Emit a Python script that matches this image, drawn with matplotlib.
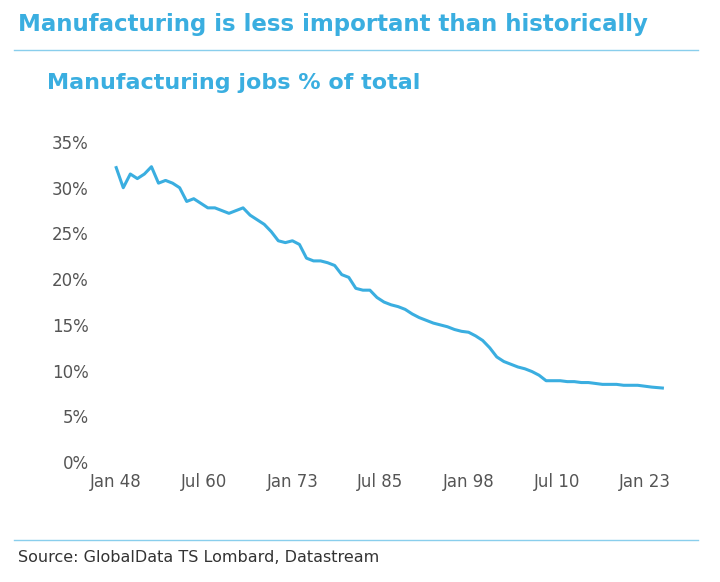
import matplotlib.pyplot as plt
from matplotlib.lines import Line2D

years = [1948, 1949, 1950, 1951, 1952, 1953, 1954, 1955, 1956, 1957, 1958, 1959,
         1960, 1961, 1962, 1963, 1964, 1965, 1966, 1967, 1968, 1969, 1970, 1971,
         1972, 1973, 1974, 1975, 1976, 1977, 1978, 1979, 1980, 1981, 1982, 1983,
         1984, 1985, 1986, 1987, 1988, 1989, 1990, 1991, 1992, 1993, 1994, 1995,
         1996, 1997, 1998, 1999, 2000, 2001, 2002, 2003, 2004, 2005, 2006, 2007,
         2008, 2009, 2010, 2011, 2012, 2013, 2014, 2015, 2016, 2017, 2018, 2019,
         2020, 2021, 2022, 2023, 2024, 2025.5]
share = [32.2, 30.0, 31.5, 31.0, 31.5, 32.3, 30.5, 30.8, 30.5, 30.0, 28.5, 28.8,
         28.3, 27.8, 27.8, 27.5, 27.2, 27.5, 27.8, 27.0, 26.5, 26.0, 25.2, 24.2,
         24.0, 24.2, 23.8, 22.3, 22.0, 22.0, 21.8, 21.5, 20.5, 20.2, 19.0, 18.8,
         18.8, 18.0, 17.5, 17.2, 17.0, 16.7, 16.2, 15.8, 15.5, 15.2, 15.0, 14.8,
         14.5, 14.3, 14.2, 13.8, 13.3, 12.5, 11.5, 11.0, 10.7, 10.4, 10.2, 9.9,
         9.5, 8.9, 8.9, 8.9, 8.8, 8.8, 8.7, 8.7, 8.6, 8.5, 8.5, 8.5,
         8.4, 8.4, 8.4, 8.3, 8.2, 8.1]
tick_pos = [1948, 1960.5, 1973, 1985.5, 1998, 2010.5, 2023]
tick_labels = ["Jan 48", "Jul 60", "Jan 73", "Jul 85", "Jan 98", "Jul 10", "Jan 23"]

blue = "#3aaee0"
grey = "#555555"

fig = plt.figure(figsize=(7.2, 5.82), dpi=100)
ax = fig.add_axes([100/720, 0.206, 580/720, 0.55])
ax.plot(years, share, color=blue, lw=2.2)
ax.set_xlim(1945.7, 2028)
ax.set_ylim(0, 35)
ax.set_yticks(range(0, 36, 5))
ax.set_yticklabels([f"{v}%" for v in range(0, 36, 5)])
ax.set_xticks(tick_pos)
ax.set_xticklabels(tick_labels)
ax.tick_params(length=0, labelsize=12, colors=grey, pad=8)
for s in ax.spines.values():
    s.set_visible(False)

fig.text(0.025, 1 - 24/582, "Manufacturing is less important than historically",
         color=blue, fontsize=16.5, fontweight="bold", va="center")
fig.add_artist(Line2D([0.02, 0.97], [1 - 50/582] * 2, color=blue, lw=1, alpha=0.6))
fig.text(0.065, 1 - 83/582, "Manufacturing jobs % of total",
         color=blue, fontsize=16, fontweight="bold", va="center")
fig.add_artist(Line2D([0.02, 0.97], [1 - 540/582] * 2, color=blue, lw=1, alpha=0.6))
fig.text(0.025, 1 - 558/582, "Source: GlobalData TS Lombard, Datastream",
         color="#333333", fontsize=11.5, va="center")

fig.savefig("out.png", facecolor="white")
